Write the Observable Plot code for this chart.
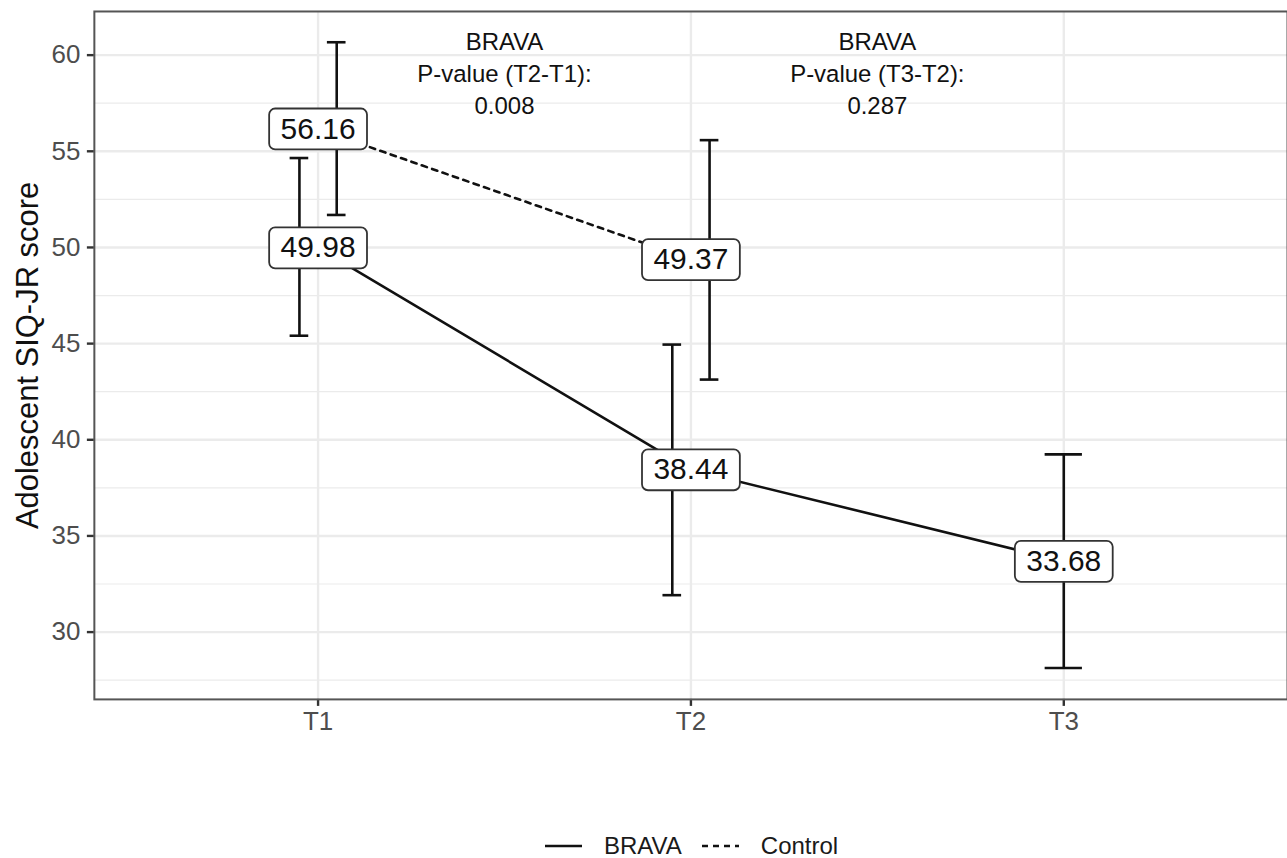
<!DOCTYPE html>
<html>
<head>
<meta charset="utf-8">
<script src="https://cdn.jsdelivr.net/npm/d3@7"></script>
<script src="https://cdn.jsdelivr.net/npm/@observablehq/plot@0.6"></script>
<style>
  html, body { margin: 0; padding: 0; background: #ffffff; overflow: hidden; }
  body { width: 1287px; height: 858px; position: relative; font-family: "Liberation Sans", Arial, Helvetica, sans-serif; }
  #legend { position: absolute; left: 545px; top: 832px; height: 28px; display: flex; align-items: center; font-size: 24px; color: #1a1a1a; }
  #legend svg { display: block; }
</style>
</head>
<body>
<div id="chart"></div>
<div id="legend"></div>
<script>
// ---- data ----
const times = ["T1", "T2", "T3"];
const groups = ["BRAVA", "Control"];
const bravaMean = [49.98, 38.44, 33.68];
const bravaLow  = [45.41, 31.92, 28.13];
const bravaHigh = [54.65, 44.95, 39.24];
const controlMean = [56.16, 49.37];
const controlLow  = [51.69, 43.13];
const controlHigh = [60.67, 55.58];
const yTicks = [30, 35, 40, 45, 50, 55, 60];
const yMinorTicks = [27.5, 32.5, 37.5, 42.5, 47.5, 52.5, 57.5];
const annotPairs = [["T1", "T2"], ["T2", "T3"]];
const annotGroup = ["BRAVA", "BRAVA"];
const annotP = ["0.008", "0.287"];
const yTitle = "Adolescent SIQ-JR score";

// ---- build table ----
const rows = [];
bravaMean.forEach((m, i) => rows.push({group: "BRAVA", time: times[i], mean: m, lo: bravaLow[i], hi: bravaHigh[i]}));
controlMean.forEach((m, i) => rows.push({group: "Control", time: times[i], mean: m, lo: controlLow[i], hi: controlHigh[i]}));
const tIndex = t => times.indexOf(t) + 1;
// position_dodge(width = 0.2), errorbar width 0.1
const dodgeW = 0.2, barW = 0.1;
rows.forEach(r => {
  const present = groups.filter(g => rows.some(s => s.time === r.time && s.group === g));
  const n = present.length, k = present.indexOf(r.group);
  r.xi = tIndex(r.time);
  r.xd = n > 1 ? r.xi - dodgeW / 2 + dodgeW / n * (k + 0.5) : r.xi;
  r.half = barW / n / 2;
});
const annots = annotPairs.map((p, i) => ({
  x: (tIndex(p[0]) + tIndex(p[1])) / 2,
  text: `${annotGroup[i]}\nP-value (${p[1]}-${p[0]}):\n${annotP[i]}`
}));

// rounded label box symbol
const boxW = 98, boxH = 41, rad = 6;
const labelBox = {
  draw(ctx) {
    const x0 = -boxW / 2, y0 = -boxH / 2, x1 = boxW / 2, y1 = boxH / 2;
    ctx.moveTo(x0 + rad, y0);
    ctx.lineTo(x1 - rad, y0);
    ctx.arcTo(x1, y0, x1, y0 + rad, rad);
    ctx.lineTo(x1, y1 - rad);
    ctx.arcTo(x1, y1, x1 - rad, y1, rad);
    ctx.lineTo(x0 + rad, y1);
    ctx.arcTo(x0, y1, x0, y1 - rad, rad);
    ctx.lineTo(x0, y0 + rad);
    ctx.arcTo(x0, y0, x0 + rad, y0, rad);
    ctx.closePath();
  }
};

const ink = "#111111";
const lw = 2.6;
const plot = Plot.plot({
  width: 1289,
  height: 800,
  marginLeft: 94,
  marginRight: 0,
  marginTop: 11,
  marginBottom: 100,
  style: {fontFamily: "'Liberation Sans', Arial, Helvetica, sans-serif", background: "transparent"},
  x: {domain: [0.4, 3.6]},
  y: {domain: [26.5, 62.27]},
  marks: [
    Plot.gridY(yMinorTicks, {stroke: "#ebebeb", strokeOpacity: 1, strokeWidth: 1.2}),
    Plot.gridY(yTicks, {stroke: "#ebebeb", strokeOpacity: 1, strokeWidth: 2.4}),
    Plot.gridX(times.map(tIndex), {stroke: "#ebebeb", strokeOpacity: 1, strokeWidth: 2.4}),
    Plot.axisY(yTicks, {tickSize: 7, tickPadding: 7, fontSize: 26, stroke: "#333333", strokeWidth: 2.4, fill: "#4d4d4d", label: null}),
    Plot.axisX(times.map(tIndex), {tickSize: 7, tickPadding: 5, fontSize: 26, stroke: "#333333", strokeWidth: 2.4, fill: "#4d4d4d", tickFormat: i => times[i - 1], label: null}),
    // error bars
    Plot.ruleX(rows, {x: "xd", y1: "lo", y2: "hi", stroke: ink, strokeWidth: lw}),
    Plot.ruleY(rows, {y: "hi", x1: d => d.xd - d.half, x2: d => d.xd + d.half, stroke: ink, strokeWidth: lw}),
    Plot.ruleY(rows, {y: "lo", x1: d => d.xd - d.half, x2: d => d.xd + d.half, stroke: ink, strokeWidth: lw}),
    // lines
    Plot.line(rows.filter(r => r.group === "BRAVA"), {x: "xi", y: "mean", stroke: ink, strokeWidth: lw}),
    Plot.line(rows.filter(r => r.group === "Control"), {x: "xi", y: "mean", stroke: ink, strokeWidth: lw, strokeDasharray: "5.5,5.5"}),
    // labels
    Plot.dot(rows, {x: "xi", y: "mean", symbol: labelBox, r: 10, fill: "white", stroke: "#333333", strokeWidth: 1.8}),
    Plot.text(rows, {x: "xi", y: "mean", text: d => d.mean.toFixed(2), fontSize: 30, fill: ink}),
    // annotations
    Plot.text(annots, {x: "x", text: "text", frameAnchor: "top", lineAnchor: "top", dy: 16, fontSize: 24, lineHeight: 1.33, fill: ink}),
    // y title
    Plot.text([yTitle], {frameAnchor: "left", textAnchor: "middle", rotate: -90, dx: -66, fontSize: 31, fill: ink}),
    Plot.frame({stroke: "#555555", strokeWidth: 2})
  ]
});
document.getElementById("chart").appendChild(plot);

// legend
const legend = document.getElementById("legend");
groups.forEach((g, i) => {
  const svg = d3.create("svg").attr("width", 37).attr("height", 20);
  svg.append("line").attr("x1", 0).attr("x2", 37).attr("y1", 10).attr("y2", 10)
    .attr("stroke", ink).attr("stroke-width", lw)
    .attr("stroke-dasharray", g === "Control" ? "6,5" : null);
  const item = document.createElement("div");
  item.style.display = "flex";
  item.style.alignItems = "center";
  item.style.marginRight = i === 0 ? "20px" : "0";
  item.appendChild(svg.node());
  const span = document.createElement("span");
  span.textContent = g;
  span.style.marginLeft = "22px";
  item.appendChild(span);
  legend.appendChild(item);
});
</script>
</body>
</html>
